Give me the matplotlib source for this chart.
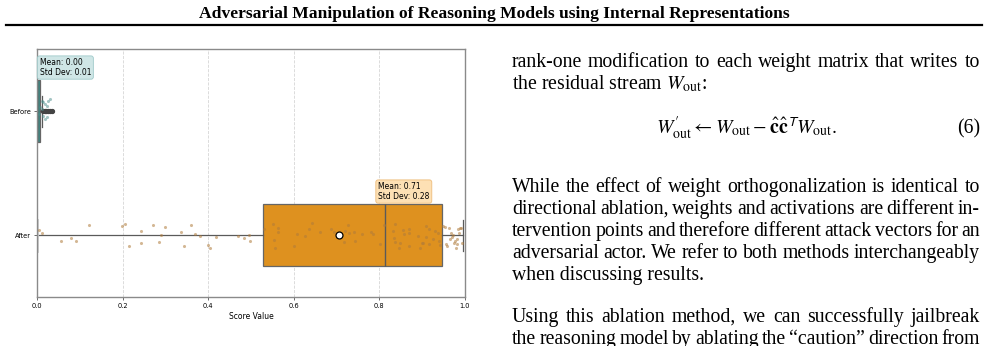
#!/usr/bin/env python3
"""
plot.py — recria o recorte da pagina: box plot "Before/After" do score e o
trecho de texto da coluna da direita (cabecalho, paragrafos e eq. 6).

Saida: out.png (988 x 346 px).
"""
import matplotlib
matplotlib.use("Agg")
import matplotlib.pyplot as plt
from matplotlib.lines import Line2D

# --------------------------------------------------------------------------- #
# Configuracao
# --------------------------------------------------------------------------- #
W_PX, H_PX = 988, 346
DPI = 100
SERIF = "Liberation Serif"

# --------------------------------------------------------------------------- #
# Dados
# --------------------------------------------------------------------------- #
CATEGORIAS = ["Before", "After"]
MEDIAS = [0.004, 0.706]
MEDIAS_TXT = [0.00, 0.71]
DESVIOS_TXT = [0.01, 0.28]
Q1 = [0.000, 0.528]
MEDIANAS = [0.000, 0.813]
Q3 = [0.006, 0.946]
WHIS_LO = [0.000, 0.000]
WHIS_HI = [0.011, 0.995]
FLIERS_BEFORE = [0.014, 0.018, 0.022, 0.026, 0.030, 0.034]
FLIERS_AFTER = []
ANOT_X = [0.006, 0.797]          # inicio do rotulo Mean/Std por grupo

BEFORE_PONTOS = [0.011, 0.015, 0.019, 0.023, 0.026, 0.030,
                 0.015, 0.019, 0.023, 0.007, 0.005, 0.012]
BEFORE_JITTER = [-0.083, -0.070, -0.056, -0.043, -0.083, -0.097,
                 0.038, 0.065, 0.051, -0.032, 0.024, -0.016]

AFTER_PONTOS = [
    0.005, 0.011, 0.056, 0.079, 0.092, 0.122, 0.199, 0.205, 0.216, 0.244,
    0.244, 0.272, 0.286, 0.290, 0.298, 0.336, 0.344, 0.360, 0.370, 0.382,
    0.399, 0.405, 0.418, 0.469, 0.483, 0.496, 0.498,
    0.531, 0.552, 0.554, 0.557, 0.562, 0.564, 0.601, 0.607, 0.626, 0.636,
    0.643, 0.661, 0.687, 0.695, 0.718, 0.720, 0.727, 0.729, 0.741, 0.742,
    0.760, 0.781, 0.785, 0.801, 0.811, 0.832, 0.836, 0.833, 0.837, 0.846,
    0.849, 0.856, 0.858, 0.868, 0.870, 0.868, 0.891, 0.895, 0.899, 0.901,
    0.909, 0.910, 0.916, 0.917, 0.925, 0.930, 0.938, 0.940, 0.942, 0.948,
    0.953, 0.955, 0.959, 0.963, 0.965, 0.967, 0.970, 0.973, 0.975, 0.977,
    0.979, 0.981, 0.982, 0.984, 0.986, 0.988, 0.990, 0.992,
]
AFTER_JITTER = [
    -0.040, -0.014, 0.046, 0.022, 0.048, -0.083, -0.075, -0.086, 0.091, -0.032,
    0.065, -0.083, 0.056, 0.002, -0.062, -0.024, 0.086, -0.083, -0.008, 0.008,
    0.078, 0.102, 0.013, 0.006, 0.027, 0.000, 0.046,
    -0.051, -0.089, 0.040, 0.107, -0.054, -0.027, 0.086, -0.010, 0.008, -0.051,
    -0.094, -0.022, -0.046, -0.024, 0.059, -0.035, -0.081, -0.014, -0.022, 0.048,
    -0.006, -0.027, -0.006, 0.070, -0.083, -0.032, -0.091, 0.027, 0.056, 0.102,
    0.067, -0.038, -0.006, -0.019, -0.046, 0.086, 0.006, 0.105, 0.067, 0.062,
    -0.073, 0.014, 0.073, -0.046, 0.030, -0.035, -0.014, 0.051, 0.081, -0.073,
    -0.062, 0.075, 0.089, -0.056, 0.032, -0.014, 0.014, 0.000, 0.062, 0.046,
    0.107, 0.073, 0.032, -0.046, -0.014, -0.054, -0.059, 0.067,
]

COR_BOX = ["#3f8682", "#de911f"]
COR_PONTO = ["#4a8d8a", "#b07c3c"]
COR_ANOT = [("#cfe6e6", "#9fcaca"), ("#fde0b4", "#eebc7a")]

# --------------------------------------------------------------------------- #
# Texto da coluna (linha, justificar?, baseline em px)
# --------------------------------------------------------------------------- #
COLUNA = [
    ("rank-one modification to each weight matrix that writes to", True, 67),
    (r"the residual stream $W_{\mathrm{out}}$:", False, 89),
    ("While the effect of weight orthogonalization is identical to", True, 192),
    ("directional ablation, weights and activations are different in-", True, 214),
    ("tervention points and therefore different attack vectors for an", True, 236),
    ("adversarial actor. We refer to both methods interchangeably", True, 258),
    ("when discussing results.", False, 280),
    ("Using this ablation method, we can successfully jailbreak", True, 322),
    ("the reasoning model by ablating the \u201ccaution\u201d direction from", True, 344),
]
EQUACAO = (r"$W^{\prime}_{\mathrm{out}} \leftarrow W_{\mathrm{out}} - "
           r"\hat{\mathbf{c}}\hat{\mathbf{c}}^{\mathsf{T}} W_{\mathrm{out}}.$")
TITULO = "Adversarial Manipulation of Reasoning Models using Internal Representations"


def px(x):
    return x / W_PX


def py(y):
    return 1 - y / H_PX


# --------------------------------------------------------------------------- #
# 1. Box plot
# --------------------------------------------------------------------------- #
def desenhar_boxplot(fig):
    ax = fig.add_axes([px(37), py(297), 428 / W_PX, 248 / H_PX])
    stats = []
    fliers = [FLIERS_BEFORE, FLIERS_AFTER]
    for i, nome in enumerate(CATEGORIAS):
        stats.append(dict(label=nome, med=MEDIANAS[i], q1=Q1[i], q3=Q3[i],
                          whislo=WHIS_LO[i], whishi=WHIS_HI[i],
                          mean=MEDIAS[i], fliers=fliers[i]))
    bp = ax.bxp(stats, positions=[0, 1], widths=0.5, orientation="horizontal",
                patch_artist=True, showmeans=True,
                boxprops=dict(edgecolor="#666666", linewidth=0.9),
                medianprops=dict(color="#5a5a5a", linewidth=1.0),
                whiskerprops=dict(color="#5a5a5a", linewidth=0.9),
                capprops=dict(color="#5a5a5a", linewidth=0.9),
                flierprops=dict(marker="o", markersize=2.8, markerfacecolor="#444444",
                                markeredgecolor="#444444"),
                meanprops=dict(marker="o", markersize=5, markerfacecolor="white",
                               markeredgecolor="black", markeredgewidth=0.9))
    for patch, cor in zip(bp["boxes"], COR_BOX):
        patch.set_facecolor(cor)
    bp["caps"][2].set_color("#cccccc")
    bp["caps"][2].set_linewidth(2.0)
    bp["means"][0].set_visible(False)      # media ~0 fica escondida sob os pontos
    bp["means"][1].set_zorder(5)

    # pontos (strip)
    ax.scatter(BEFORE_PONTOS, [0 + j for j in BEFORE_JITTER], s=5, color=COR_PONTO[0],
               alpha=0.5, linewidths=0, zorder=3)
    ax.scatter(AFTER_PONTOS, [1 + j for j in AFTER_JITTER], s=5, color=COR_PONTO[1],
               alpha=0.55, linewidths=0, zorder=3)

    # rotulos Mean / Std
    for i in range(len(CATEGORIAS)):
        fc, ec = COR_ANOT[i]
        ax.text(ANOT_X[i], i - 0.275, f"Mean: {MEDIAS_TXT[i]:.2f}\nStd Dev: {DESVIOS_TXT[i]:.2f}",
                fontsize=5.5, ha="left", va="bottom", zorder=6, linespacing=1.1,
                bbox=dict(boxstyle="round,pad=0.3", facecolor=fc, edgecolor=ec, linewidth=0.6))

    ax.set_xlim(0, 1)
    ax.set_ylim(1.5, -0.5)
    ax.set_yticks([0, 1])
    ax.set_yticklabels(CATEGORIAS)
    ax.set_xticks([0, 0.2, 0.4, 0.6, 0.8, 1.0])
    ax.xaxis.grid(True, linestyle="--", color="#d6d6d6", linewidth=0.6)
    ax.set_axisbelow(True)
    for s in ax.spines.values():
        s.set_color("#8a8a8a")
        s.set_linewidth(1.0)
    ax.tick_params(labelsize=4.8, length=2.5, width=0.6, color="#555555", pad=2)
    ax.set_xlabel("Score Value", fontsize=5.5, labelpad=2)
    return ax


# --------------------------------------------------------------------------- #
# 2. Texto da pagina
# --------------------------------------------------------------------------- #
def escrever_linha(fig, renderer, texto, x0, x1, base, justificar, **kw):
    if not justificar:
        fig.text(px(x0), py(base), texto, va="baseline", **kw)
        return
    palavras = texto.split(" ")
    arts = [fig.text(0, py(base), w, va="baseline", **kw) for w in palavras]
    larg = [a.get_window_extent(renderer).width for a in arts]
    gap = (x1 - x0 - sum(larg)) / (len(palavras) - 1)
    x = x0
    for a, w in zip(arts, larg):
        a.set_x(px(x))
        x += w + gap


def desenhar_pagina(fig):
    renderer = fig.canvas.get_renderer()
    fig.text(px(494), py(18), TITULO, ha="center", va="baseline", family=SERIF,
             fontweight="bold", fontsize=12.6)
    fig.add_artist(Line2D([px(6), px(982)], [py(25), py(25)], color="black", lw=1.6))

    kw = dict(family=SERIF, fontsize=14.2)
    for texto, just, base in COLUNA:
        escrever_linha(fig, renderer, texto, 512, 980, base, just, **kw)
    fig.text(px(747), py(133), EQUACAO, ha="center", va="baseline", **kw)
    fig.text(px(980), py(133), "(6)", ha="right", va="baseline", **kw)


def main():
    plt.rcParams["mathtext.fontset"] = "stix"
    fig = plt.figure(figsize=(W_PX / DPI, H_PX / DPI), dpi=DPI)
    desenhar_boxplot(fig)
    desenhar_pagina(fig)
    fig.savefig("out.png", dpi=DPI)
    plt.close(fig)


if __name__ == "__main__":
    main()
